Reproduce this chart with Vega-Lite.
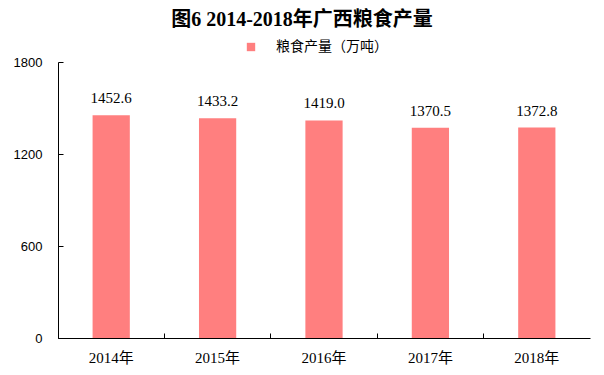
{
  "$schema": "https://vega.github.io/schema/vega-lite/v6.json",
  "width": 532,
  "height": 276,
  "autosize": "none",
  "padding": {"left": 58, "top": 62, "right": 14, "bottom": 37},
  "background": "white",
  "config": {
    "view": {"stroke": null},
    "font": "Liberation Serif, Noto Sans CJK SC",
    "axis": {"domainColor": "#000000", "tickColor": "#000000", "labelColor": "#000000", "grid": false, "title": null}
  },
  "title": {
    "text": "图6 2014-2018年广西粮食产量",
    "font": "Liberation Serif, Noto Sans CJK SC",
    "fontSize": 20,
    "fontWeight": "bold",
    "color": "#000000",
    "anchor": "middle",
    "dx": -22,
    "offset": 10
  },
  "data": {
    "values": [
      {"year": "2014年", "value": 1452.6, "label": "1452.6", "series": "粮食产量（万吨）"},
      {"year": "2015年", "value": 1433.2, "label": "1433.2", "series": "粮食产量（万吨）"},
      {"year": "2016年", "value": 1419.0, "label": "1419.0", "series": "粮食产量（万吨）"},
      {"year": "2017年", "value": 1370.5, "label": "1370.5", "series": "粮食产量（万吨）"},
      {"year": "2018年", "value": 1372.8, "label": "1372.8", "series": "粮食产量（万吨）"}
    ]
  },
  "encoding": {
    "x": {
      "field": "year", "type": "nominal",
      "scale": {"paddingInner": 0, "paddingOuter": 0},
      "axis": {"labelAngle": 0, "bandPosition": 0, "tickSize": -5, "labelPadding": 17, "domainWidth": 1, "labelFont": "Liberation Serif, Noto Sans CJK SC", "labelFontSize": 15}
    },
    "y": {
      "field": "value", "type": "quantitative",
      "scale": {"domain": [0, 1800], "nice": false},
      "axis": {"values": [0, 600, 1200, 1800], "format": "d", "tickSize": -5, "labelPadding": 21, "domainWidth": 1, "labelFont": "Liberation Sans", "labelFontSize": 13}
    }
  },
  "layer": [
    {
      "mark": {"type": "bar", "width": {"band": 0.35}},
      "encoding": {
        "color": {
          "field": "series", "type": "nominal",
          "scale": {"range": ["#FF7F7F"]},
          "legend": {"title": null, "orient": "none", "legendX": 186, "legendY": -22, "symbolType": "square", "symbolSize": 70, "labelFontSize": 14, "labelOffset": 18, "labelFont": "Noto Sans CJK SC", "symbolStrokeWidth": 0, "labelColor": "#000000"}
        }
      }
    },
    {
      "mark": {"type": "text", "dy": -12, "fontSize": 15, "font": "Liberation Serif", "color": "#000000", "baseline": "alphabetic"},
      "encoding": {"text": {"field": "label"}}
    }
  ]
}
